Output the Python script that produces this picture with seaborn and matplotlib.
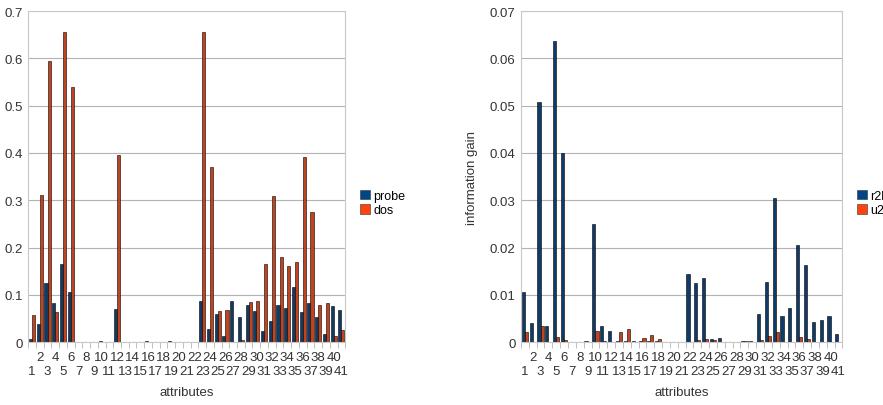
import numpy as np
import pandas as pd
import matplotlib
matplotlib.use("Agg")
import matplotlib.pyplot as plt
import matplotlib.transforms as mtransforms
import seaborn as sns
from matplotlib.ticker import FuncFormatter, FixedLocator

attributes = list(range(1, 42))

probe = [0.0056, 0.039, 0.125, 0.082, 0.166, 0.105, 0.0, 0.001, 0.0, 0.002,
         0.0005, 0.070, 0.001, 0.0, 0.0005, 0.002, 0.001, 0.0, 0.002, 0.0,
         0.0, 0.001, 0.086, 0.028, 0.059, 0.013, 0.087, 0.052, 0.079, 0.065,
         0.023, 0.044, 0.078, 0.073, 0.117, 0.063, 0.083, 0.052, 0.018, 0.076,
         0.068]
dos = [0.058, 0.312, 0.594, 0.063, 0.655, 0.539, 0.0, 0.0, 0.0, 0.001,
       0.0, 0.395, 0.0, 0.0, 0.0, 0.0, 0.0, 0.0, 0.0, 0.0,
       0.0, 0.0, 0.655, 0.371, 0.066, 0.068, 0.001, 0.004, 0.085, 0.087,
       0.166, 0.310, 0.180, 0.161, 0.169, 0.392, 0.276, 0.079, 0.082, 0.013,
       0.025]
r2l = [0.0106, 0.0040, 0.0507, 0.0034, 0.0636, 0.0399, 0.0, 0.0, 0.0002, 0.0249,
       0.0033, 0.0023, 0.0002, 0.0003, 0.0002, 0.0003, 0.0003, 0.0003, 0.0, 0.0,
       0.0, 0.0145, 0.0124, 0.0136, 0.0006, 0.0008, 0.0, 0.0, 0.0003, 0.0003,
       0.0060, 0.0128, 0.0304, 0.0055, 0.0073, 0.0206, 0.0162, 0.0042, 0.0047, 0.0055,
       0.0018]
u2 = [0.0021, 0.0, 0.0034, 0.0, 0.0011, 0.0005, 0.0, 0.0, 0.0, 0.0024,
      0.0002, 0.0, 0.0021, 0.0027, 0.0, 0.0008, 0.0016, 0.0006, 0.0, 0.0,
      0.0, 0.0, 0.0004, 0.0007, 0.0004, 0.0, 0.0, 0.0, 0.0002, 0.0,
      0.0004, 0.0012, 0.0021, 0.0, 0.0, 0.0010, 0.0006, 0.0, 0.0, 0.0,
      0.0]

blue = "#0f3b66"
orange = "#c0441f"
txt = "#333333"

plt.rcParams['font.family'] = ['Liberation Sans', 'DejaVu Sans']
fig = plt.figure(figsize=(8.83, 4.06), dpi=100)
ax1 = fig.add_axes([0.032, 0.155, 0.359, 0.815])
ax2 = fig.add_axes([0.590, 0.155, 0.364, 0.815])


def panel(ax, s1, s2, n1, n2, ymax, step):
    df = pd.DataFrame({"attr": attributes * 2,
                       "value": s1 + s2,
                       "series": [n1] * 41 + [n2] * 41})
    sns.barplot(data=df, x="attr", y="value", hue="series", ax=ax,
                palette=[blue, orange], width=0.8, edgecolor="black",
                linewidth=0.4, saturation=1)
    ax.set_ylim(0, ymax)
    ax.set_xlim(-0.5, 40.5)
    ax.set_yticks(np.arange(0, ymax + step / 2, step))
    ax.yaxis.set_major_formatter(FuncFormatter(lambda v, p: "{:g}".format(v)))
    # category labels in two staggered rows: even on top, odd below
    ax.set_xticks([])
    trans = mtransforms.blended_transform_factory(ax.transData, ax.transAxes)
    for i, a in enumerate(attributes):
        ax.text(i, -0.028 if a % 2 == 0 else -0.068, str(a), transform=trans,
                ha="center", va="top", fontsize=9.5, color=txt)
    ax.xaxis.set_minor_locator(FixedLocator(np.arange(-0.5, 41, 1)))
    ax.tick_params(axis="x", which="minor", length=4, color="#b3b3b3")
    ax.tick_params(axis="y", length=0, labelsize=9.5, labelcolor=txt, pad=4)
    ax.grid(axis="y", color="#b3b3b3", linewidth=0.8)
    ax.set_axisbelow(True)
    for sp in ax.spines.values():
        sp.set_color("#c8c8c8")
    ax.set_xlabel("attributes", fontsize=9.5, color=txt)
    ax.xaxis.set_label_coords(0.5, -0.133)
    leg = ax.legend(loc="center left", bbox_to_anchor=(1.01, 0.42), frameon=False,
                    fontsize=9, handlelength=0.8, handleheight=0.8,
                    handletextpad=0.3, labelspacing=0.2)
    for h, c in zip(leg.legend_handles, ["#004586", "#ff420e"]):
        h.set_facecolor(c)
        h.set_edgecolor(txt)


panel(ax1, probe, dos, "probe", "dos", 0.7, 0.1)
ax1.set_ylabel("")
panel(ax2, r2l, u2, "r2l", "u2", 0.07, 0.01)
ax2.set_ylabel("information gain", fontsize=9.5, color=txt, labelpad=8)

fig.savefig("out.png", dpi=100)
